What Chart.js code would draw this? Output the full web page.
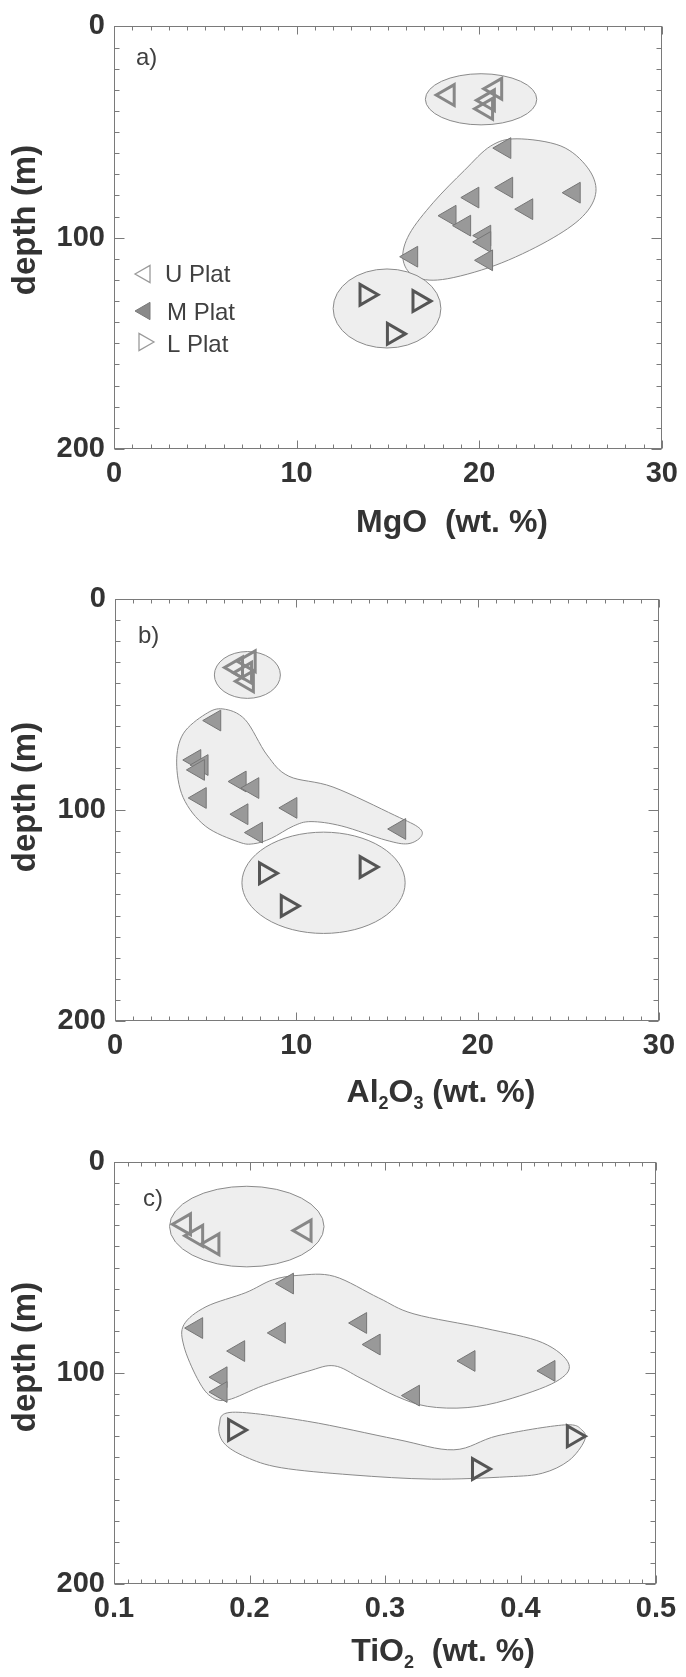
<!DOCTYPE html>
<html><head><meta charset="utf-8">
<script src="https://cdn.jsdelivr.net/npm/chart.js@4.4.1/dist/chart.umd.min.js"></script>
<style>
html,body{margin:0;padding:0;background:#fff;}
body{width:686px;height:1677px;position:relative;overflow:hidden;}
canvas{position:absolute;left:0;display:block;}
</style></head><body>
<canvas id="ca" width="686" height="560" style="top:0"></canvas>
<canvas id="cb" width="686" height="560" style="top:560px"></canvas>
<canvas id="cc" width="686" height="557" style="top:1120px"></canvas>
<script>
// ---- data (depth in m, shared by the three panels) ----
const seriesNames = ['U Plat', 'M Plat', 'L Plat'];
const uDepth = [29.5, 32.5, 35, 39];
const mDepth = [57.6, 76.3, 78.7, 81, 86.5, 89.6, 94.3, 99, 102, 109, 110.7];
const lDepth = [127, 130, 145.5];

// panel a : MgO (wt. %)
const uMgO = [20.9, 18.3, 20.5, 20.4];
const mMgO = [21.4, 21.5, 25.2, 19.65, 22.6, 18.4, 19.2, 20.3, 20.3, 16.3, 20.4];
const lMgO = [13.8, 16.7, 15.3];
// panel b : Al2O3 (wt. %)
const uAl2O3 = [7.4, 6.7, 7.2, 7.3];
const mAl2O3 = [5.5, 4.4, 4.8, 4.6, 6.9, 7.6, 4.7, 9.7, 7.0, 15.7, 7.8];
const lAl2O3 = [13.85, 8.3, 9.5];
// panel c : TiO2 (wt. %)
const uTiO2 = [0.152, 0.241, 0.161, 0.173];
const mTiO2 = [0.228, 0.282, 0.161, 0.222, 0.292, 0.192, 0.362, 0.421, 0.179, 0.179, 0.321];
const lTiO2 = [0.189, 0.439, 0.369];

// tick labels
const depthTicks = [0, 100, 200];
const mgoTicks = [0, 10, 20, 30];
const al2o3Ticks = [0, 10, 20, 30];
const tio2Ticks = [0.1, 0.2, 0.3, 0.4, 0.5];

// field outlines (data coordinates)
const aUfield = {cx: 20.1, cy: 34.5, rx: 3.05, ry: 12.1};
const aLfield = {cx: 14.95, cy: 133.5, rx: 2.95, ry: 18.7};
const aMfield = [[22.07,53.2],[24.47,56.6],[25.91,66.6],[26.39,78.2],[25.67,89.9],[23.75,101.5],[20.87,113.1],[17.98,119.8],[16.42,118.1],[15.82,109.8],[16.18,98.2],[17.5,83.2],[19.18,68.2],[20.63,56.6]];
const bUfield = {cx: 7.3, cy: 36, rx: 1.82, ry: 11.1};
const bLfield = {cx: 11.5, cy: 134.5, rx: 4.5, ry: 24};
const bMfield = [[5.95,52.1],[7.17,57.1],[8.38,73.9],[9.59,84.0],[12.02,89.1],[15.42,102.5],[16.76,108.4],[16.88,112.6],[16.15,116.0],[14.94,114.3],[12.51,107.6],[10.81,105.5],[9.84,107.6],[8.62,113.4],[7.65,116.0],[6.80,115.1],[4.98,107.6],[3.76,94.1],[3.40,77.3],[3.76,63.9],[4.98,54.6]];
const cUfield = {cx: 0.198, cy: 30.6, rx: 0.057, ry: 19.1};
const cMfield = [[0.2365,53.7],[0.2626,54.2],[0.2953,64.4],[0.3214,72.0],[0.3736,78.8],[0.4161,85.6],[0.4357,95.8],[0.4259,104.2],[0.3900,112.7],[0.3606,116.4],[0.3312,115.8],[0.3083,111.0],[0.2822,102.5],[0.2626,96.6],[0.2430,99.2],[0.2104,105.9],[0.1842,112.7],[0.1712,111.0],[0.1614,102.5],[0.1516,87.3],[0.1516,77.1],[0.1679,68.6],[0.1973,61.9],[0.2169,55.9]];
const cLfield = [[0.1875,118.6],[0.2430,122.9],[0.3083,131.4],[0.3508,136.4],[0.3834,129.7],[0.4324,124.6],[0.4455,127.1],[0.4471,132.2],[0.4357,141.5],[0.4161,147.5],[0.3900,149.2],[0.3344,150.3],[0.2757,148.3],[0.2234,144.9],[0.1973,139.8],[0.1810,133.1],[0.1777,124.6]];

// ---- drawing ----
const FONT = "'Liberation Sans', Arial, Helvetica, sans-serif";
const TXT = '#333333';
const PANEL = {};   // per-canvas settings used by the plugins

function pts(xs, ys){ return xs.map((x,i)=>({x:x, y:ys[i]})); }

function drawClosedSpline(ctx, p){
  const n = p.length;
  ctx.beginPath();
  ctx.moveTo(p[0][0], p[0][1]);
  for(let i=0;i<n;i++){
    const p0=p[(i-1+n)%n], p1=p[i], p2=p[(i+1)%n], p3=p[(i+2)%n];
    const c1x=p1[0]+(p2[0]-p0[0])/6, c1y=p1[1]+(p2[1]-p0[1])/6;
    const c2x=p2[0]-(p3[0]-p1[0])/6, c2y=p2[1]-(p3[1]-p1[1])/6;
    ctx.bezierCurveTo(c1x,c1y,c2x,c2y,p2[0],p2[1]);
  }
  ctx.closePath();
}

const fieldPlugin = {
  id:'fields',
  beforeDatasetsDraw(chart){
    const o=PANEL[chart.canvas.id];
    const ctx=chart.ctx, xs=chart.scales.x, ys=chart.scales.y;
    ctx.save();
    ctx.fillStyle='#eeeeee'; ctx.strokeStyle='#8a8a8a'; ctx.lineWidth=1;
    o.shapes.forEach(s=>{
      if(Array.isArray(s)){
        drawClosedSpline(ctx, s.map(q=>[xs.getPixelForValue(q[0]), ys.getPixelForValue(q[1])]));
      } else {
        const cx=xs.getPixelForValue(s.cx), cy=ys.getPixelForValue(s.cy);
        const rx=Math.abs(xs.getPixelForValue(s.cx+s.rx)-cx), ry=Math.abs(ys.getPixelForValue(s.cy+s.ry)-cy);
        ctx.beginPath(); ctx.ellipse(cx,cy,rx,ry,0,0,Math.PI*2); ctx.closePath();
      }
      ctx.fill(); ctx.stroke();
    });
    ctx.restore();
  }
};

const framePlugin = {
  id:'frame',
  afterDatasetsDraw(chart){
    const o=PANEL[chart.canvas.id];
    const ctx=chart.ctx, a=chart.chartArea, xs=chart.scales.x, ys=chart.scales.y;
    ctx.save();
    ctx.strokeStyle='#7a7a7a'; ctx.lineWidth=1;
    const L=Math.round(a.left)+0.5, R=Math.round(a.right)-0.5, T=Math.round(a.top)+0.5, B=Math.round(a.bottom)-0.5;
    ctx.strokeRect(L,T,R-L,B-T);
    ctx.beginPath();
    const nx=Math.round((o.xmax-o.xmin)/o.xminor), per=Math.round(o.xmajor/o.xminor);
    for(let i=0;i<=nx;i++){
      const v=o.xmin+i*o.xminor;
      const px=Math.round(xs.getPixelForValue(v))+0.5;
      const len=(i%per===0)?8:4;
      ctx.moveTo(px,B); ctx.lineTo(px,B-len);
      ctx.moveTo(px,T); ctx.lineTo(px,T+len);
    }
    for(let i=0;i<=20;i++){
      const v=i*10;
      const py=Math.round(ys.getPixelForValue(v))+0.5;
      const len=(v%100===0)?10:5;
      ctx.moveTo(L,py); ctx.lineTo(L+len,py);
      ctx.moveTo(R,py); ctx.lineTo(R-len,py);
    }
    ctx.stroke();
    ctx.restore();
  }
};

function drawRich(ctx, parts, cx, cy, size){
  const f=(sub)=>'bold '+(sub?Math.round(size*0.55):size)+'px '+FONT;
  let w=0;
  parts.forEach(p=>{ ctx.font=f(p[1]); w+=ctx.measureText(p[0]).width; });
  let x=cx-w/2;
  ctx.textAlign='left'; ctx.textBaseline='middle';
  parts.forEach(p=>{
    ctx.font=f(p[1]);
    ctx.fillText(p[0], x, p[1]? cy+size*0.33 : cy);
    x+=ctx.measureText(p[0]).width;
  });
}

const textPlugin = {
  id:'texts',
  afterDraw(chart){
    const o=PANEL[chart.canvas.id];
    const ctx=chart.ctx;
    ctx.save();
    ctx.fillStyle=TXT;
    ctx.save();
    ctx.translate(o.yt[0], o.yt[1]); ctx.rotate(-Math.PI/2);
    ctx.font='bold 33px '+FONT; ctx.textAlign='center'; ctx.textBaseline='middle';
    ctx.fillText('depth (m)',0,0);
    ctx.restore();
    drawRich(ctx, o.xtitle, o.xt[0], o.xt[1], 32);
    ctx.fillStyle='#404040';
    ctx.font='24px '+FONT; ctx.textAlign='left'; ctx.textBaseline='middle';
    ctx.fillText(o.label, o.lab[0], o.lab[1]);
    if(o.legend){
      const H=Chart.helpers;
      const items=[
        {y:274, x:145, rot:-90, fill:'rgba(0,0,0,0)', stroke:'#9a9a9a', lw:1.3},
        {y:311, x:145, rot:-90, fill:'#8a8a8a', stroke:'#7a7a7a', lw:1},
        {y:342, x:144, rot:90, fill:'rgba(0,0,0,0)', stroke:'#9a9a9a', lw:1.3}
      ];
      const tx=[165,167,167], ty=[275,313,345];
      items.forEach((it,i)=>{
        ctx.fillStyle=it.fill; ctx.strokeStyle=it.stroke; ctx.lineWidth=it.lw;
        H.drawPoint(ctx,{pointStyle:'triangle', rotation:it.rot, radius:10, borderWidth:it.lw}, it.x, it.y);
        ctx.fillStyle='#404040'; ctx.font='24px '+FONT; ctx.textAlign='left'; ctx.textBaseline='middle';
        ctx.fillText(seriesNames[i], tx[i], ty[i]);
      });
    }
    ctx.restore();
  }
};

function makeChart(id, c){
  PANEL[id]=c;
  const tickFont={family:FONT, size:29, weight:'bold'};
  return new Chart(document.getElementById(id), {
    type:'scatter',
    data:{datasets:[
      {label:seriesNames[0], data:pts(c.u,uDepth), pointStyle:'triangle', rotation:-90, pointRadius:12, pointBorderWidth:3, borderColor:'#878787', backgroundColor:'rgba(0,0,0,0)'},
      {label:seriesNames[1], data:pts(c.m,mDepth), pointStyle:'triangle', rotation:-90, pointRadius:12, pointBorderWidth:1, borderColor:'#767676', backgroundColor:'#999999'},
      {label:seriesNames[2], data:pts(c.l,lDepth), pointStyle:'triangle', rotation:90, pointRadius:12, pointBorderWidth:3, borderColor:'#555555', backgroundColor:'rgba(0,0,0,0)'}
    ]},
    options:{
      responsive:false, animation:false, events:[],
      layout:{padding:{left:0, right:c.padR, top:c.padT, bottom:0}},
      plugins:{legend:{display:false}, tooltip:{enabled:false}},
      scales:{
        x:{type:'linear', min:c.xmin, max:c.xmax,
           grid:{display:false, drawTicks:false}, border:{display:false},
           ticks:{font:tickFont, color:TXT, padding:8, maxRotation:0, autoSkip:false, callback:(v)=>String(+(+v).toFixed(2))},
           afterBuildTicks:(s)=>{ s.ticks=c.xticks.map(v=>({value:v})); },
           afterFit:(s)=>{ s.height=c.xH; }},
        y:{type:'linear', reverse:true, min:0, max:200,
           grid:{display:false, drawTicks:false}, border:{display:false},
           ticks:{font:tickFont, color:TXT, padding:9, autoSkip:false},
           afterBuildTicks:(s)=>{ s.ticks=depthTicks.map(v=>({value:v})); },
           afterFit:(s)=>{ s.width=c.yW; }}
      }
    },
    plugins:[fieldPlugin, framePlugin, textPlugin]
  });
}

makeChart('ca', {u:uMgO, m:mMgO, l:lMgO, xmin:0, xmax:30, xminor:1, xmajor:10, xticks:mgoTicks,
  padR:24, padT:22, xH:111, yW:114, shapes:[aUfield, aMfield, aLfield],
  yt:[26,220], xt:[452,523], xtitle:[['MgO  (wt. %)',false]], label:'a)', lab:[136,58], legend:true});
makeChart('cb', {u:uAl2O3, m:mAl2O3, l:lAl2O3, xmin:0, xmax:30, xminor:1, xmajor:10, xticks:al2o3Ticks,
  padR:27, padT:39, xH:99, yW:115, shapes:[bUfield, bMfield, bLfield],
  yt:[26,237], xt:[441,533], xtitle:[['Al',false],['2',true],['O',false],['3',true],[' (wt. %)',false]], label:'b)', lab:[138,76], legend:false});
makeChart('cc', {u:uTiO2, m:mTiO2, l:lTiO2, xmin:0.1, xmax:0.5, xminor:0.01, xmajor:0.1, xticks:tio2Ticks,
  padR:30, padT:42, xH:93, yW:114, shapes:[cUfield, cMfield, cLfield],
  yt:[26,237], xt:[443,532], xtitle:[['TiO',false],['2',true],['  (wt. %)',false]], label:'c)', lab:[143,79], legend:false});
</script>
</body></html>
